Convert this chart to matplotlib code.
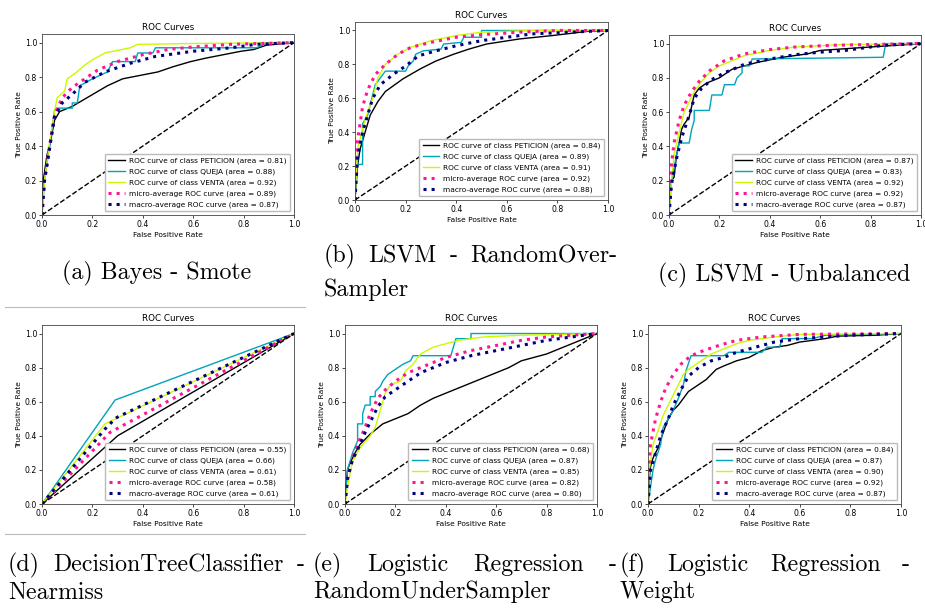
import numpy as np
import matplotlib
matplotlib.use('Agg')
import matplotlib.pyplot as plt
from matplotlib.lines import Line2D

W, H = 925, 608

classes = ['PETICION', 'QUEJA', 'VENTA']

# ---- (a) Bayes - Smote
a_auc = [0.81, 0.88, 0.92, 0.89, 0.87]
a_peticion = [(0, 0), (0.005, 0.2), (0.02, 0.35), (0.03, 0.4), (0.05, 0.55), (0.07, 0.6), (0.12, 0.63),
              (0.19, 0.69), (0.26, 0.75), (0.32, 0.79), (0.39, 0.81), (0.46, 0.83), (0.52, 0.86),
              (0.59, 0.89), (0.65, 0.91), (0.72, 0.93), (0.79, 0.95), (0.84, 0.96), (0.89, 0.985), (1, 1)]
a_queja = [(0, 0), (0.01, 0.2), (0.03, 0.4), (0.05, 0.61), (0.06, 0.62), (0.12, 0.62), (0.12, 0.65),
           (0.14, 0.65), (0.15, 0.75), (0.2, 0.79), (0.26, 0.83), (0.28, 0.89), (0.37, 0.89),
           (0.38, 0.94), (0.44, 0.94), (0.45, 0.97), (0.85, 0.97), (0.9, 1.0), (1, 1)]
a_venta = [(0, 0), (0.01, 0.2), (0.03, 0.42), (0.05, 0.6), (0.06, 0.68), (0.09, 0.72), (0.1, 0.79),
           (0.13, 0.82), (0.17, 0.87), (0.2, 0.9), (0.25, 0.94), (0.35, 0.97), (0.38, 0.99),
           (0.6, 0.995), (1, 1)]
a_micro = [(0, 0), (0.01, 0.2), (0.03, 0.4), (0.05, 0.58), (0.08, 0.68), (0.12, 0.74), (0.17, 0.79),
           (0.22, 0.84), (0.3, 0.89), (0.4, 0.93), (0.5, 0.96), (0.6, 0.975), (0.75, 0.99), (1, 1)]
a_macro = [(0, 0), (0.01, 0.2), (0.05, 0.57), (0.08, 0.65), (0.12, 0.7), (0.17, 0.77), (0.25, 0.83),
           (0.35, 0.88), (0.45, 0.92), (0.6, 0.95), (0.75, 0.97), (0.85, 0.99), (1, 1)]

# ---- (b) LSVM - RandomOverSampler
b_auc = [0.84, 0.89, 0.91, 0.92, 0.88]
b_peticion = [(0, 0), (0.01, 0.2), (0.02, 0.3), (0.04, 0.4), (0.06, 0.5), (0.09, 0.58), (0.12, 0.64),
              (0.19, 0.715), (0.26, 0.775), (0.32, 0.82), (0.39, 0.86), (0.45, 0.89), (0.52, 0.92),
              (0.65, 0.95), (0.78, 0.97), (0.92, 0.995), (1, 1)]
b_queja = [(0, 0), (0.01, 0.25), (0.01, 0.21), (0.03, 0.21), (0.03, 0.45), (0.05, 0.5), (0.07, 0.62),
           (0.08, 0.68), (0.1, 0.72), (0.12, 0.76), (0.2, 0.76), (0.21, 0.79), (0.23, 0.82),
           (0.24, 0.86), (0.27, 0.88), (0.34, 0.89), (0.35, 0.92), (0.42, 0.93), (0.43, 0.96),
           (0.5, 0.96), (0.5, 1.0), (1, 1)]
b_venta = [(0, 0), (0.01, 0.3), (0.03, 0.42), (0.05, 0.52), (0.07, 0.6), (0.09, 0.72), (0.12, 0.8),
           (0.17, 0.86), (0.22, 0.9), (0.3, 0.94), (0.4, 0.97), (0.5, 0.99), (0.7, 1.0), (1, 1)]
b_micro = [(0, 0), (0.005, 0.25), (0.01, 0.35), (0.03, 0.55), (0.05, 0.65), (0.08, 0.74), (0.12, 0.8),
           (0.17, 0.86), (0.22, 0.9), (0.3, 0.93), (0.4, 0.96), (0.5, 0.975), (0.65, 0.99),
           (0.8, 1.0), (1, 1)]
b_macro = [(0, 0), (0.01, 0.25), (0.03, 0.4), (0.05, 0.5), (0.07, 0.6), (0.1, 0.68), (0.15, 0.74),
           (0.2, 0.79), (0.25, 0.85), (0.32, 0.88), (0.4, 0.91), (0.5, 0.94), (0.6, 0.96),
           (0.7, 0.98), (0.85, 0.99), (1, 1)]

# ---- (c) LSVM - Unbalanced
c_auc = [0.87, 0.83, 0.92, 0.92, 0.87]
c_peticion = [(0, 0), (0.005, 0.15), (0.01, 0.2), (0.02, 0.22), (0.03, 0.35), (0.04, 0.42),
              (0.05, 0.5), (0.06, 0.53), (0.08, 0.57), (0.1, 0.7), (0.12, 0.74), (0.15, 0.77),
              (0.2, 0.8), (0.25, 0.85), (0.3, 0.87), (0.35, 0.89), (0.45, 0.92), (0.55, 0.94),
              (0.6, 0.96), (0.7, 0.97), (0.8, 0.98), (0.9, 0.99), (1, 1)]
c_queja = [(0, 0), (0.01, 0.2), (0.03, 0.35), (0.04, 0.42), (0.08, 0.42), (0.09, 0.5), (0.1, 0.55),
           (0.1, 0.61), (0.16, 0.61), (0.17, 0.7), (0.21, 0.7), (0.22, 0.76), (0.26, 0.76),
           (0.27, 0.8), (0.29, 0.83), (0.29, 0.87), (0.32, 0.87), (0.33, 0.91), (0.85, 0.92),
           (0.86, 1.0), (1, 1)]
c_venta = [(0, 0), (0.01, 0.2), (0.02, 0.35), (0.04, 0.48), (0.06, 0.6), (0.08, 0.66), (0.1, 0.72),
           (0.13, 0.78), (0.16, 0.83), (0.2, 0.87), (0.3, 0.93), (0.4, 0.96), (0.5, 0.98),
           (0.7, 0.995), (1, 1)]
c_micro = [(0, 0), (0.005, 0.2), (0.01, 0.3), (0.02, 0.42), (0.04, 0.55), (0.06, 0.64), (0.09, 0.72),
           (0.12, 0.78), (0.16, 0.84), (0.22, 0.9), (0.3, 0.94), (0.4, 0.965), (0.5, 0.98),
           (0.65, 0.99), (1, 1)]
c_macro = [(0, 0), (0.01, 0.18), (0.03, 0.33), (0.05, 0.45), (0.08, 0.58), (0.1, 0.68), (0.13, 0.74),
           (0.17, 0.79), (0.22, 0.83), (0.27, 0.86), (0.3, 0.88), (0.4, 0.91), (0.5, 0.935),
           (0.6, 0.95), (0.7, 0.96), (0.85, 0.99), (1, 1)]

# ---- (d) DecisionTreeClassifier - Nearmiss
d_auc = [0.55, 0.66, 0.61, 0.58, 0.61]
d_peticion = [(0, 0), (0.3, 0.4), (1, 1)]
d_queja = [(0, 0), (0.29, 0.61), (1, 1)]
d_venta = [(0, 0), (0.25, 0.47), (1, 1)]
d_micro = [(0, 0), (0.27, 0.42), (1, 1)]
d_macro = [(0, 0), (0.25, 0.44), (0.29, 0.5), (0.3, 0.51), (1, 1)]

# ---- (e) Logistic Regression - RandomUnderSampler
e_auc = [0.68, 0.87, 0.85, 0.82, 0.80]
e_peticion = [(0, 0), (0.005, 0.12), (0.01, 0.2), (0.02, 0.24), (0.04, 0.3), (0.06, 0.35),
              (0.08, 0.38), (0.1, 0.41), (0.15, 0.47), (0.2, 0.5), (0.25, 0.53), (0.3, 0.58),
              (0.35, 0.62), (0.4, 0.65), (0.45, 0.68), (0.5, 0.71), (0.55, 0.74), (0.6, 0.77),
              (0.65, 0.8), (0.7, 0.84), (0.75, 0.86), (0.8, 0.88), (0.85, 0.91), (0.9, 0.94),
              (0.95, 0.97), (1, 1)]
e_queja = [(0, 0), (0.01, 0.2), (0.03, 0.3), (0.05, 0.37), (0.05, 0.47), (0.07, 0.47), (0.07, 0.53),
           (0.08, 0.58), (0.1, 0.58), (0.1, 0.63), (0.12, 0.63), (0.12, 0.66), (0.14, 0.69),
           (0.15, 0.72), (0.17, 0.76), (0.2, 0.79), (0.23, 0.82), (0.26, 0.84), (0.27, 0.87),
           (0.42, 0.87), (0.43, 0.92), (0.44, 0.97), (0.5, 0.97), (0.5, 1.0), (1, 1)]
e_venta = [(0, 0), (0.01, 0.1), (0.03, 0.25), (0.06, 0.33), (0.1, 0.4), (0.12, 0.45), (0.14, 0.55),
           (0.16, 0.65), (0.18, 0.7), (0.22, 0.72), (0.24, 0.78), (0.27, 0.82), (0.3, 0.88),
           (0.35, 0.92), (0.4, 0.94), (0.45, 0.96), (0.55, 0.98), (0.7, 0.99), (1, 1)]
e_micro = [(0, 0), (0.01, 0.15), (0.03, 0.27), (0.05, 0.35), (0.08, 0.45), (0.1, 0.53), (0.13, 0.62),
           (0.16, 0.67), (0.2, 0.72), (0.25, 0.77), (0.3, 0.8), (0.35, 0.83), (0.4, 0.86),
           (0.5, 0.9), (0.6, 0.93), (0.7, 0.96), (0.8, 0.98), (0.9, 0.99), (1, 1)]
e_macro = [(0, 0), (0.01, 0.15), (0.03, 0.26), (0.06, 0.35), (0.08, 0.42), (0.1, 0.48), (0.13, 0.57),
           (0.16, 0.63), (0.2, 0.67), (0.25, 0.72), (0.3, 0.77), (0.35, 0.8), (0.4, 0.83),
           (0.5, 0.87), (0.6, 0.9), (0.7, 0.93), (0.8, 0.96), (0.9, 0.98), (1, 1)]

# ---- (f) Logistic Regression - Weight
f_auc = [0.84, 0.87, 0.90, 0.92, 0.87]
f_peticion = [(0, 0), (0.005, 0.15), (0.01, 0.22), (0.02, 0.27), (0.04, 0.33), (0.06, 0.42),
              (0.08, 0.5), (0.1, 0.55), (0.12, 0.58), (0.14, 0.62), (0.16, 0.66), (0.2, 0.7),
              (0.23, 0.73), (0.25, 0.76), (0.27, 0.79), (0.3, 0.81), (0.35, 0.84), (0.4, 0.86),
              (0.45, 0.9), (0.5, 0.92), (0.55, 0.93), (0.6, 0.95), (0.7, 0.97), (0.75, 0.985),
              (0.9, 0.99), (1, 1)]
f_queja = [(0, 0), (0.01, 0.1), (0.02, 0.2), (0.03, 0.26), (0.05, 0.35), (0.06, 0.45), (0.08, 0.5),
           (0.1, 0.55), (0.12, 0.62), (0.14, 0.7), (0.15, 0.78), (0.17, 0.87), (0.3, 0.87),
           (0.32, 0.89), (0.45, 0.89), (0.47, 0.92), (0.52, 0.92), (0.53, 0.97), (0.65, 0.97),
           (0.7, 0.99), (1, 1)]
f_venta = [(0, 0), (0.005, 0.2), (0.02, 0.35), (0.04, 0.43), (0.06, 0.52), (0.08, 0.58), (0.1, 0.64),
           (0.12, 0.7), (0.14, 0.76), (0.16, 0.79), (0.2, 0.83), (0.25, 0.88), (0.3, 0.91),
           (0.35, 0.94), (0.4, 0.96), (0.5, 0.98), (0.6, 0.995), (1, 1)]
f_micro = [(0, 0), (0.005, 0.25), (0.01, 0.35), (0.03, 0.5), (0.05, 0.6), (0.07, 0.68), (0.1, 0.76),
           (0.13, 0.82), (0.17, 0.87), (0.22, 0.9), (0.28, 0.93), (0.35, 0.96), (0.45, 0.98),
           (0.6, 0.995), (1, 1)]
f_macro = [(0, 0), (0.01, 0.2), (0.03, 0.3), (0.05, 0.4), (0.08, 0.5), (0.1, 0.58), (0.13, 0.67),
           (0.16, 0.75), (0.2, 0.8), (0.25, 0.84), (0.3, 0.86), (0.35, 0.89), (0.4, 0.91),
           (0.5, 0.95), (0.6, 0.97), (0.7, 0.98), (0.8, 0.99), (1, 1)]

CAP_SIZE = 17.2


def px_rect(x0, y0, x1, y1):
    # pixel box (top-left origin) -> figure fraction rect
    return [x0 / W, 1 - y1 / H, (x1 - x0) / W, (y1 - y0) / H]


def roc_panel(rect, curves, aucs):
    ax = fig.add_axes(rect)
    cmap = plt.cm.nipy_spectral
    for i, (pts, name) in enumerate(zip(curves[:3], classes)):
        pts = np.array(pts)
        ax.plot(pts[:, 0], pts[:, 1], lw=1.0, color=cmap(float(i) / len(classes)),
                label='ROC curve of class {0} (area = {1:0.2f})'.format(name, aucs[i]))
    pts = np.array(curves[3])
    ax.plot(pts[:, 0], pts[:, 1], ':', lw=2.2, color='deeppink',
            label='micro-average ROC curve (area = {0:0.2f})'.format(aucs[3]))
    pts = np.array(curves[4])
    ax.plot(pts[:, 0], pts[:, 1], ':', lw=2.2, color='navy',
            label='macro-average ROC curve (area = {0:0.2f})'.format(aucs[4]))
    ax.plot([0, 1], [0, 1], 'k--', lw=1.0)
    ax.set_xlim([0.0, 1.0])
    ax.set_ylim([0.0, 1.05])
    ax.set_title('ROC Curves', fontsize=6.3, pad=3)
    ax.set_xlabel('False Positive Rate', fontsize=5.4, labelpad=2)
    ax.set_ylabel('True Positive Rate', fontsize=5.4, labelpad=2)
    ax.tick_params(labelsize=5.6, length=2, width=0.5, pad=1.5)
    for s in ax.spines.values():
        s.set_linewidth(0.6)
        s.set_color('#444444')
    ax.legend(loc='lower right', fontsize=5.3, handlelength=2.2, labelspacing=0.58,
              borderpad=0.5, handletextpad=0.6, framealpha=1, edgecolor='#bbbbbb',
              fancybox=True)
    return ax


def caption(x, y, s, ha='left'):
    return fig.text(x / W, 1 - y / H, s, fontsize=CAP_SIZE, family='cmr10', ha=ha, va='center')


def justified(words, x0, x1, y):
    # spread the words so the line runs from x0 to x1 (like a justified LaTeX line)
    texts = [caption(x0, y, w) for w in words]
    r = fig.canvas.get_renderer()
    widths = [t.get_window_extent(renderer=r).width for t in texts]
    gap = (x1 - x0 - sum(widths)) / (len(words) - 1)
    x = x0
    for t, w in zip(texts, widths):
        t.set_x(x / W)
        x += w + gap


fig = plt.figure(figsize=(W / 100, H / 100), dpi=100)

roc_panel(px_rect(42, 34, 294, 215), [a_peticion, a_queja, a_venta, a_micro, a_macro], a_auc)
roc_panel(px_rect(355, 22, 608, 200), [b_peticion, b_queja, b_venta, b_micro, b_macro], b_auc)
roc_panel(px_rect(669, 35, 921, 215), [c_peticion, c_queja, c_venta, c_micro, c_macro], c_auc)
roc_panel(px_rect(42, 325, 294, 504), [d_peticion, d_queja, d_venta, d_micro, d_macro], d_auc)
roc_panel(px_rect(345, 325, 597, 504), [e_peticion, e_queja, e_venta, e_micro, e_macro], e_auc)
roc_panel(px_rect(648, 325, 901, 504), [f_peticion, f_queja, f_venta, f_micro, f_macro], f_auc)

# separator rules from the document page
for yy in (307, 534):
    fig.add_artist(Line2D([5 / W, 305 / W], [1 - yy / H, 1 - yy / H], color='#bbbbbb', lw=0.8))

caption(157, 273, '(a) Bayes - Smote', ha='center')
caption(784, 275, '(c) LSVM - Unbalanced', ha='center')

justified(['(b)', 'LSVM', '-', 'RandomOver-'], 324, 617, 256)
caption(324, 290, 'Sampler')

justified(['(d)', 'DecisionTreeClassifier', '-'], 8, 305, 565)
caption(8, 593, 'Nearmiss')

justified(['(e)', 'Logistic', 'Regression', '-'], 313, 617, 565)
caption(313, 592, 'RandomUnderSampler')

justified(['(f)', 'Logistic', 'Regression', '-'], 620, 910, 565)
caption(620, 592, 'Weight')

fig.savefig('out.png', dpi=100)
